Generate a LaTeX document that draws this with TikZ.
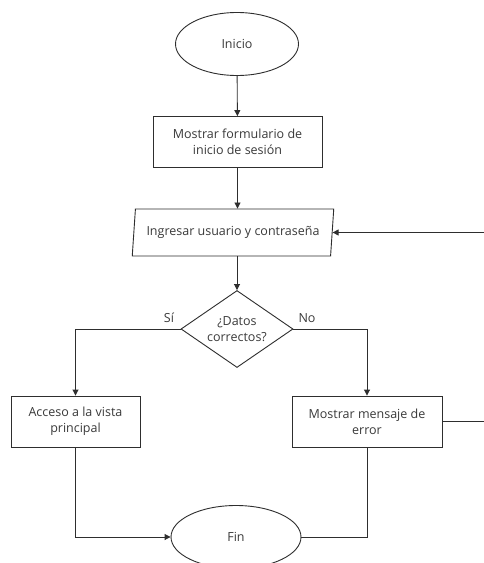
\documentclass[tikz,border=0pt]{standalone}
\usepackage{fontspec}
\setmainfont{Open Sans}
\usetikzlibrary{shapes.geometric,arrows.meta}
\definecolor{ink}{HTML}{2E2E2E}
\definecolor{txt}{HTML}{3A3A3A}
\begin{document}
\begin{tikzpicture}[x=1pt,y=-1pt,
  every node/.style={font=\fontsize{12.5}{16}\selectfont, text=txt, align=center, inner sep=0pt},
  terminal/.style={draw=ink, line width=0.9pt, ellipse, minimum width=123pt, minimum height=63pt},
  process/.style={draw=ink, line width=0.9pt, rectangle, minimum height=51pt},
  io/.style={draw=ink, line width=0.9pt, trapezium, trapezium left angle=77, trapezium right angle=103,
    trapezium stretches=true, minimum width=202pt, minimum height=47pt},
  decision/.style={draw=ink, line width=0.9pt, diamond, minimum width=112pt, minimum height=77pt, aspect=1.45},
  flow/.style={draw=ink, line width=0.9pt, -{Triangle[length=6pt,width=6pt]}},
  link/.style={draw=ink, line width=0.9pt}]
\useasboundingbox (0,0) rectangle (484,563);
\clip (0,0) rectangle (484,563);
\fill[white] (0,0) rectangle (484,563);

\node[terminal] (start) at (237,44) {Inicio};
\node[process, minimum width=169pt] (form) at (237.5,142) {Mostrar formulario de\\inicio de sesión};
\node[io] (input) at (233,232.5) {Ingresar usuario y contraseña};
\node[decision] (check) at (237,329) {¿Datos\\correctos?};
\node[process, minimum width=129pt] (home) at (75.5,421.5) {Acceso a la vista\\principal};
\node[process, minimum width=150pt] (error) at (367,421.5) {Mostrar mensaje de\\error};
\node[terminal, minimum width=130pt] (end) at (236,537) {Fin};

\node (yes) at (169,318) {Sí};
\node (no) at (307,318) {No};

\draw[flow] (start) -- (form);
\draw[flow] (form) -- (form.south |- input.north);
\draw[flow] (input.south -| check.north) -- (check);
\draw[flow] (check.west) -| (home.north);
\draw[flow] (check.east) -| (error.north);
\draw[flow] (error.east) -- ++(60,0) |- (input.east);
\draw[flow] (home.south) |- (end.west);
\draw[link] (error.south) |- (end.east);
\end{tikzpicture}
\end{document}
